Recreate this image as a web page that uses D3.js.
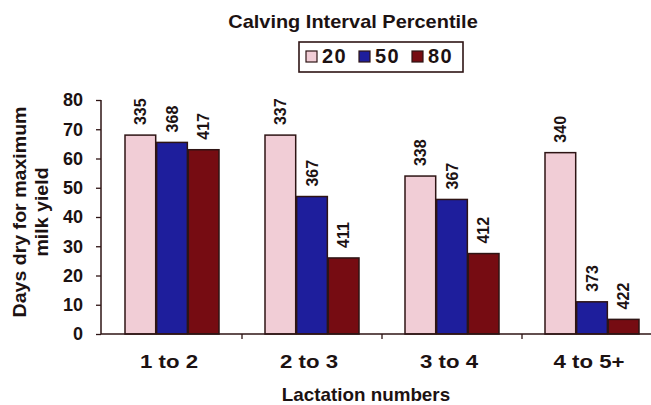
<!DOCTYPE html>
<html>
<head>
<meta charset="utf-8">
<script src="https://cdn.jsdelivr.net/npm/d3@7"></script>
<style>
  html, body { margin: 0; padding: 0; background: #ffffff; }
  svg { display: block; font-family: "Liberation Sans", Arial, Helvetica, sans-serif; }
</style>
</head>
<body>
<svg id="chart" width="651" height="405"></svg>
<script>
// ---- Data ----
const categories = ["1 to 2", "2 to 3", "3 to 4", "4 to 5+"];
const seriesNames = ["20", "50", "80"];
const values20 = [68, 68, 54, 62];
const values50 = [65.5, 47, 46, 11];
const values80 = [63, 26, 27.5, 5];
const labels20 = ["335", "337", "338", "340"];
const labels50 = ["368", "367", "367", "373"];
const labels80 = ["417", "411", "412", "422"];
const yTicks = [0, 10, 20, 30, 40, 50, 60, 70, 80];
const chartTitle = "Calving Interval Percentile";
const xTitle = "Lactation numbers";
const yTitleLines = ["Days dry for maximum", "milk yield"];

const seriesValues = [values20, values50, values80];
const seriesLabels = [labels20, labels50, labels80];
const colors = ["#f1cdd6", "#1e1e9c", "#760c12"];
const ink = "#1c1212";
const edge = "#2e1414";

const svg = d3.select("#chart");

// widen text horizontally (reference font is broader than Arial)
function widen(sel, factor) {
  sel.each(function () {
    const w = this.getComputedTextLength();
    d3.select(this).attr("textLength", w * factor).attr("lengthAdjust", "spacingAndGlyphs");
  });
}

// ---- Scales ----
const x0 = d3.scaleBand().domain(categories).range([102, 662]).padding(0);
const x1 = d3.scaleBand().domain(seriesNames).range([23, 117]).paddingInner(0.03);
const y = d3.scaleLinear().domain([0, 80]).range([334, 100]);

// ---- Bars ----
const rows = [];
categories.forEach((c, ci) => {
  seriesNames.forEach((s, si) => {
    rows.push({ cat: c, series: s, si, value: seriesValues[si][ci], label: seriesLabels[si][ci] });
  });
});

const g = svg.append("g");
g.selectAll("rect.bar")
  .data(rows)
  .join("rect")
  .attr("class", "bar")
  .attr("x", d => x0(d.cat) + x1(d.series))
  .attr("y", d => y(d.value))
  .attr("width", x1.bandwidth())
  .attr("height", d => y(0) - y(d.value))
  .attr("fill", d => colors[d.si])
  .attr("stroke", edge)
  .attr("stroke-width", 1.5);

// ---- Bar value labels (rotated) ----
g.selectAll("text.val")
  .data(rows)
  .join("text")
  .attr("class", "val")
  .attr("transform", d => `translate(${x0(d.cat) + x1(d.series) + x1.bandwidth() / 2},${y(d.value) - 10}) rotate(-90)`)
  .attr("dy", "0.36em")
  .attr("text-anchor", "start")
  .attr("font-size", 16)
  .attr("font-weight", "bold")
  .attr("fill", ink)
  .text(d => d.label);

// ---- Y axis ----
const yAxis = d3.axisLeft(y).tickValues(yTicks).tickSize(5).tickPadding(13).tickFormat(d3.format("d"));
const yg = svg.append("g").attr("transform", "translate(101,0)").call(yAxis);
yg.select(".domain").attr("stroke", edge).attr("stroke-width", 1.5).attr("d", `M0,${y(80)}V${y(0)}`);
yg.selectAll(".tick line").attr("stroke", edge).attr("stroke-width", 1.3);
yg.selectAll(".tick text")
  .attr("font-size", 18)
  .attr("font-weight", "bold")
  .attr("font-family", "Liberation Sans, Arial, sans-serif")
  .attr("fill", ink);

// ---- X axis ----
const xAxis = d3.axisBottom(x0).tickSize(0).tickPadding(21);
const xg = svg.append("g").attr("transform", `translate(0,${y(0)})`).call(xAxis);
xg.select(".domain").attr("stroke", edge).attr("stroke-width", 1.5).attr("d", "M101,0H651");
xg.selectAll(".tick text")
  .attr("font-size", 19)
  .attr("font-weight", "bold")
  .attr("font-family", "Liberation Sans, Arial, sans-serif")
  .attr("fill", ink)
  .attr("x", -3)
  .call(widen, 1.17);
// boundary ticks between categories
xg.selectAll("line.sep")
  .data(categories.slice(1))
  .join("line")
  .attr("class", "sep")
  .attr("x1", d => x0(d))
  .attr("x2", d => x0(d))
  .attr("y1", 0)
  .attr("y2", 5)
  .attr("stroke", edge)
  .attr("stroke-width", 1.3);

// ---- Titles ----
svg.append("text")
  .attr("x", 353)
  .attr("y", 28)
  .attr("text-anchor", "middle")
  .attr("font-size", 19)
  .attr("font-weight", "bold")
  .attr("fill", ink)
  .text(chartTitle)
  .call(widen, 1.05);

svg.append("text")
  .attr("x", 366)
  .attr("y", 401)
  .attr("text-anchor", "middle")
  .attr("font-size", 19)
  .attr("font-weight", "bold")
  .attr("fill", ink)
  .text(xTitle)
  .call(widen, 0.99);

svg.selectAll("text.ytitle")
  .data(yTitleLines)
  .join("text")
  .attr("class", "ytitle")
  .attr("transform", (d, i) => `translate(${26 + i * 22},212) rotate(-90)`)
  .attr("text-anchor", "middle")
  .attr("font-size", 19)
  .attr("font-weight", "bold")
  .attr("fill", ink)
  .text(d => d)
  .call(widen, 1.03);

// ---- Legend ----
const legend = svg.append("g");
legend.append("rect")
  .attr("x", 299).attr("y", 42).attr("width", 164).attr("height", 30)
  .attr("fill", "#ffffff").attr("stroke", edge).attr("stroke-width", 1.6);
const li = legend.selectAll("g.item")
  .data(seriesNames)
  .join("g")
  .attr("class", "item")
  .attr("transform", (d, i) => `translate(${306 + i * 53},0)`);
li.append("rect")
  .attr("x", 0).attr("y", 51).attr("width", 11).attr("height", 11)
  .attr("fill", (d, i) => colors[i]).attr("stroke", edge).attr("stroke-width", 1.2);
li.append("text")
  .attr("x", 16).attr("y", 63)
  .attr("font-size", 20).attr("font-weight", "bold")
  .attr("letter-spacing", "1.5px")
  .attr("fill", ink)
  .text(d => d);
</script>
</body>
</html>
